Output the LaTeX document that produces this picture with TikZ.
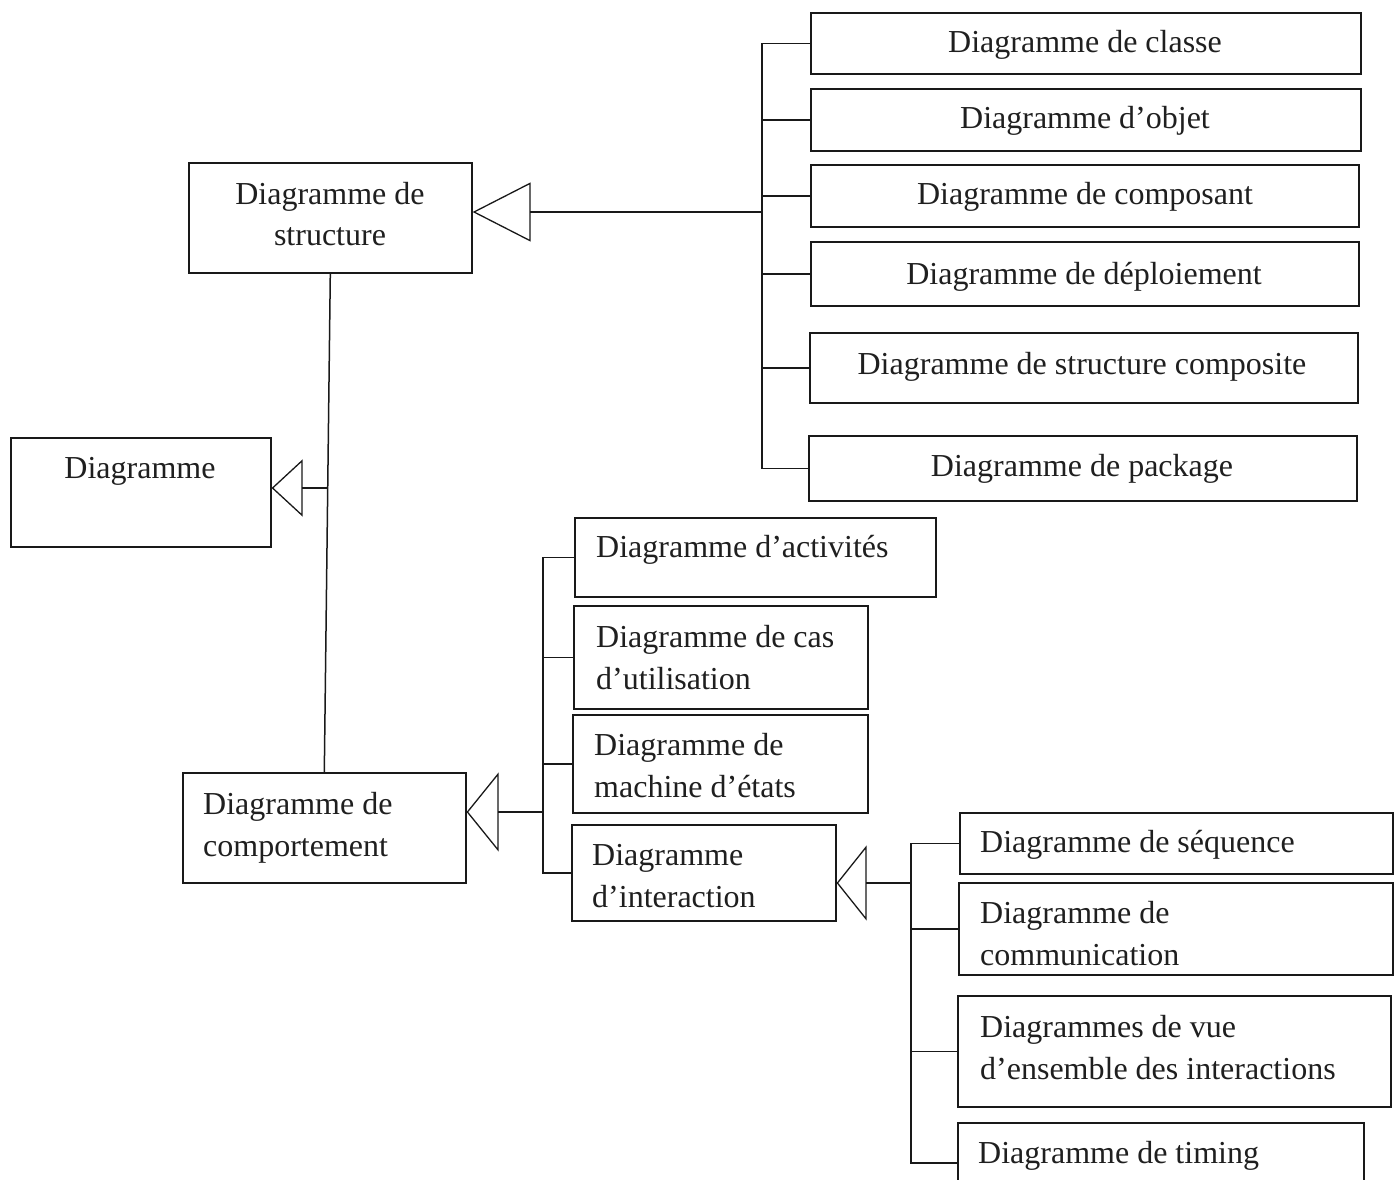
\documentclass[tikz,border=0pt]{standalone}
\usepackage{fontspec}
\setmainfont{Liberation Serif}
\usetikzlibrary{arrows.meta}
\begin{document}
\begin{tikzpicture}[x=1pt,y=-1pt,
  box/.style={draw=black!90, line width=1.6pt, rectangle, anchor=north west, inner sep=0pt},
  txt/.style={font=\fontsize{32}{42}\selectfont, text=black!88, inner sep=0pt},
  link/.style={draw=black!90, line width=1.5pt, line join=miter},
  gen/.style args={#1/#2}{link, -{Triangle[open, length=#1pt, width=#2pt, line width=1.3pt]}},
]
\useasboundingbox (0,0) rectangle (1400,1180);

% ---- boxes ----
\node[box, minimum width=283, minimum height=110] (str)  at (188,162) {};
\node[box, minimum width=260, minimum height=109] (diag) at (10,437) {};
\node[box, minimum width=283, minimum height=110] (comp) at (182,772) {};

\node[box, minimum width=550, minimum height=61] (cls) at (810,12) {};
\node[box, minimum width=550, minimum height=62] (obj) at (810,88) {};
\node[box, minimum width=548, minimum height=62] (cmp) at (810,164) {};
\node[box, minimum width=548, minimum height=64] (dep) at (810,241) {};
\node[box, minimum width=548, minimum height=70] (csc) at (809,332) {};
\node[box, minimum width=548, minimum height=65] (pkg) at (808,435) {};

\node[box, minimum width=361, minimum height=79]  (act) at (574,517) {};
\node[box, minimum width=294, minimum height=103] (cas) at (573,605) {};
\node[box, minimum width=295, minimum height=98]  (mac) at (572,714) {};
\node[box, minimum width=264, minimum height=96]  (int) at (571,824) {};

\node[box, minimum width=433, minimum height=61]  (seq) at (959,812) {};
\node[box, minimum width=434, minimum height=92]  (com) at (958,882) {};
\node[box, minimum width=433, minimum height=111] (vue) at (957,995) {};
\node[box, minimum width=406, minimum height=80]  (tim) at (957,1122) {};

% ---- labels ----
\node[txt, anchor=base] (tstr) at (330,204) {\begin{tabular}[t]{@{}c@{}}Diagramme de\\structure\end{tabular}};
\node[txt, anchor=base] (tdiag) at (140,478) {Diagramme};
\node[txt, anchor=base west] (tcomp) at (203,814) {\begin{tabular}[t]{@{}l@{}}Diagramme de\\comportement\end{tabular}};

\node[txt, anchor=base] (tcls) at (1085,53)  {Diagramme de classe};
\node[txt, anchor=base] (tobj) at (1085,129) {Diagramme d’objet};
\node[txt, anchor=base] (tcmp) at (1085,204) {Diagramme de composant};
\node[txt, anchor=base] (tdep) at (1084,284) {Diagramme de déploiement};
\node[txt, anchor=base] (tcsc) at (1082,374) {Diagramme de structure composite};
\node[txt, anchor=base] (tpkg) at (1082,476) {Diagramme de package};

\node[txt, anchor=base west] (tact) at (596,557) {Diagramme d’activités};
\node[txt, anchor=base west] (tcas) at (596,647) {\begin{tabular}[t]{@{}l@{}}Diagramme de cas\\d’utilisation\end{tabular}};
\node[txt, anchor=base west] (tmac) at (594,755) {\begin{tabular}[t]{@{}l@{}}Diagramme de\\machine d’états\end{tabular}};
\node[txt, anchor=base west] (tint) at (592,865) {\begin{tabular}[t]{@{}l@{}}Diagramme\\d’interaction\end{tabular}};

\node[txt, anchor=base west] (tseq) at (980,852)  {Diagramme de séquence};
\node[txt, anchor=base west] (tcom) at (980,923)  {\begin{tabular}[t]{@{}l@{}}Diagramme de\\communication\end{tabular}};
\node[txt, anchor=base west] (tvue) at (980,1037) {\begin{tabular}[t]{@{}l@{}}Diagrammes de vue\\d’ensemble des interactions\end{tabular}};
\node[txt, anchor=base west] (ttim) at (978,1163) {Diagramme de timing};

% ---- junction points ----
\coordinate (jS) at (762,212);
\coordinate (jD) at (327,488);
\coordinate (jC) at (543,812);
\coordinate (jI) at (911,883);

% ---- structure diagrams ----
\draw[gen=58/59] (jS) -- (str.east |- jS);
\draw[link] (cls.west) -- (cls.west -| jS) -- (pkg.west -| jS) -- (pkg.west);
\foreach \n in {obj,cmp,dep,csc} \draw[link] (\n.west) -- (\n.west -| jS);

% ---- main hierarchy ----
\draw[link] (str.south) -- (comp.north);
\draw[gen=31/57] (jD) -- (diag.east |- jD);

% ---- behaviour diagrams ----
\draw[gen=32/79] (jC) -- (comp.east |- jC);
\draw[link] (act.west) -- (act.west -| jC) -- (int.west -| jC) -- (int.west);
\foreach \n in {cas,mac} \draw[link] (\n.west) -- (\n.west -| jC);

% ---- interaction diagrams ----
\draw[gen=30/75] (jI) -- (int.east |- jI);
\draw[link] (seq.west) -- (seq.west -| jI) -- (tim.west -| jI) -- (tim.west);
\foreach \n in {com,vue} \draw[link] (\n.west) -- (\n.west -| jI);
\end{tikzpicture}
\end{document}
